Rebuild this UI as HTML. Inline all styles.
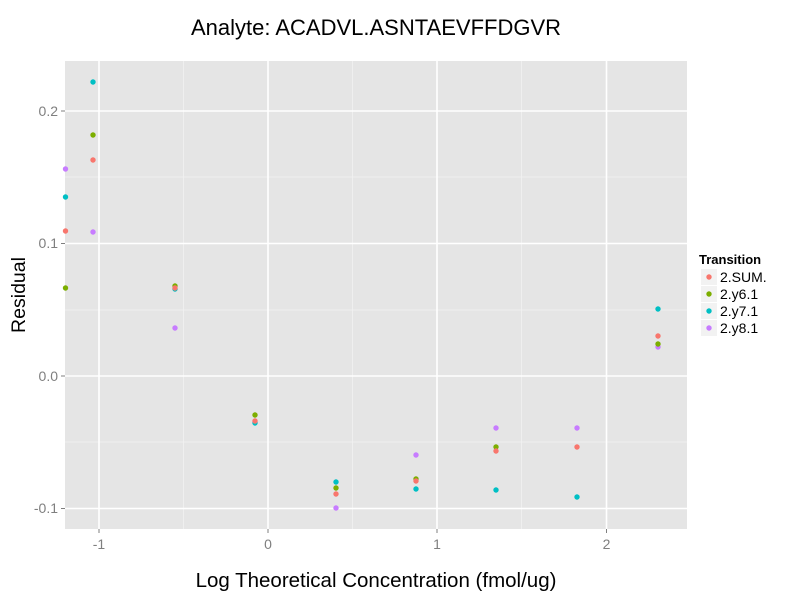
<!DOCTYPE html>
<html><head><meta charset="utf-8"><style>body{margin:0;background:#fff}svg{display:block}</style></head><body>
<svg width="800" height="600" xmlns="http://www.w3.org/2000/svg" font-family="Liberation Sans, sans-serif">
<rect width="800" height="600" fill="#fff"/>
<rect x="65" y="61" width="622" height="468" fill="#e5e5e5"/>
<g stroke="#f2f2f2" stroke-width="0.8">
<line x1="65" x2="687" y1="177" y2="177"/><line x1="65" x2="687" y1="310" y2="310"/><line x1="65" x2="687" y1="442" y2="442"/>
<line y1="61" y2="529" x1="183.5" x2="183.5"/><line y1="61" y2="529" x1="352.5" x2="352.5"/><line y1="61" y2="529" x1="521.5" x2="521.5"/>
</g>
<g stroke="#fff" stroke-width="1.6">
<line x1="65" x2="687" y1="111" y2="111"/><line x1="65" x2="687" y1="243.5" y2="243.5"/><line x1="65" x2="687" y1="376" y2="376"/><line x1="65" x2="687" y1="508.5" y2="508.5"/>
<line y1="61" y2="529" x1="99" x2="99"/><line y1="61" y2="529" x1="268" x2="268"/><line y1="61" y2="529" x1="437" x2="437"/><line y1="61" y2="529" x1="606.5" x2="606.5"/>
</g>
<g stroke="#7f7f7f" stroke-width="1">
<line x1="61" x2="65" y1="111" y2="111"/><line x1="61" x2="65" y1="243.5" y2="243.5"/><line x1="61" x2="65" y1="376" y2="376"/><line x1="61" x2="65" y1="508.5" y2="508.5"/>
<line y1="529" y2="533" x1="99" x2="99"/><line y1="529" y2="533" x1="268" x2="268"/><line y1="529" y2="533" x1="437" x2="437"/><line y1="529" y2="533" x1="606.5" x2="606.5"/>
</g>
<g font-size="14" fill="#7f7f7f" text-anchor="end">
<text x="58" y="116">0.2</text><text x="58" y="248">0.1</text><text x="58" y="381">0.0</text><text x="58" y="513">-0.1</text>
</g>
<g font-size="14" fill="#7f7f7f" text-anchor="middle">
<text x="99" y="549">-1</text><text x="268" y="549">0</text><text x="437" y="549">1</text><text x="606.5" y="549">2</text>
</g>
<text x="376" y="587" font-size="20.5" text-anchor="middle">Log Theoretical Concentration (fmol/ug)</text>
<text transform="translate(25,295) rotate(-90)" font-size="19.5" text-anchor="middle">Residual</text>
<text x="376" y="35" font-size="22" text-anchor="middle">Analyte: ACADVL.ASNTAEVFFDGVR</text>
<g>
<g fill="#C77CFF"><circle cx="65.5" cy="169" r="2.7"/><circle cx="93" cy="232" r="2.7"/><circle cx="175" cy="328" r="2.7"/><circle cx="255" cy="422" r="2.7"/><circle cx="336" cy="508" r="2.7"/><circle cx="416" cy="455" r="2.7"/><circle cx="496" cy="428" r="2.7"/><circle cx="577" cy="428" r="2.7"/><circle cx="658" cy="347" r="2.7"/></g>
<g fill="#00BFC4"><circle cx="65.5" cy="197" r="2.7"/><circle cx="93" cy="82" r="2.7"/><circle cx="175" cy="289" r="2.7"/><circle cx="255" cy="423" r="2.7"/><circle cx="336" cy="482" r="2.7"/><circle cx="416" cy="489" r="2.7"/><circle cx="496" cy="490" r="2.7"/><circle cx="577" cy="497" r="2.7"/><circle cx="658" cy="309" r="2.7"/></g>
<g fill="#7CAE00"><circle cx="65.5" cy="288" r="2.7"/><circle cx="93" cy="135" r="2.7"/><circle cx="175" cy="286" r="2.7"/><circle cx="255" cy="415" r="2.7"/><circle cx="336" cy="488" r="2.7"/><circle cx="416" cy="479" r="2.7"/><circle cx="496" cy="447" r="2.7"/><circle cx="658" cy="344" r="2.7"/></g>
<g fill="#F8766D"><circle cx="65.5" cy="231" r="2.7"/><circle cx="93" cy="160" r="2.7"/><circle cx="175" cy="288" r="2.7"/><circle cx="255" cy="421" r="2.7"/><circle cx="336" cy="494" r="2.7"/><circle cx="416" cy="481" r="2.7"/><circle cx="496" cy="451" r="2.7"/><circle cx="577" cy="447" r="2.7"/><circle cx="658" cy="336" r="2.7"/></g>
</g>
<text x="699" y="264" font-size="13" font-weight="bold">Transition</text>
<g fill="#f2f2f2"><rect x="701" y="269" width="16" height="16"/><rect x="701" y="286" width="16" height="16"/><rect x="701" y="303" width="16" height="16"/><rect x="701" y="320" width="16" height="16"/></g>
<circle cx="709" cy="277" r="2.7" fill="#F8766D"/><circle cx="709" cy="294" r="2.7" fill="#7CAE00"/><circle cx="709" cy="311" r="2.7" fill="#00BFC4"/><circle cx="709" cy="328" r="2.7" fill="#C77CFF"/>
<g font-size="14"><text x="720" y="282">2.SUM.</text><text x="720" y="299">2.y6.1</text><text x="720" y="316">2.y7.1</text><text x="720" y="333">2.y8.1</text></g>
</svg>
</body></html>
